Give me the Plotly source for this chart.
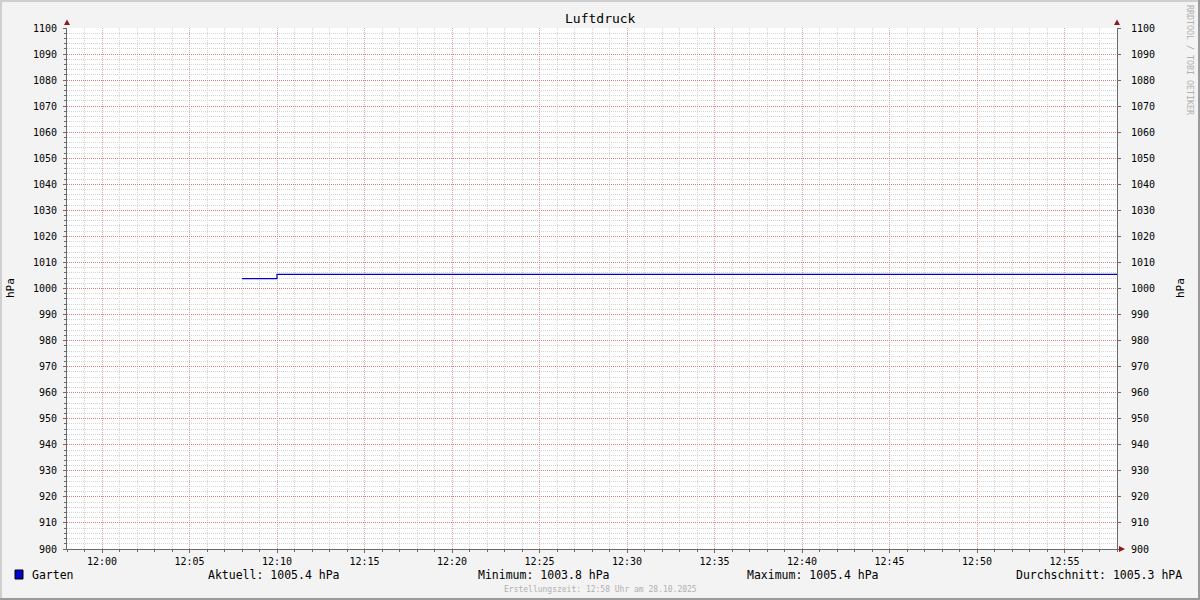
import plotly.graph_objects as go

# ---- data ----
title = "Luftdruck"
series_name = "Garten"
times = ["2025-10-28 12:08:00", "2025-10-28 12:10:00", "2025-10-28 12:58:00"]
values = [1003.8, 1005.4, 1005.4]
x_range = ["2025-10-28 11:58:00", "2025-10-28 12:58:00"]
y_range = [900, 1100]
unit = "hPa"
stats = ["Aktuell: 1005.4 hPa", "Minimum: 1003.8 hPa", "Maximum: 1005.4 hPa", "Durchschnitt: 1005.3 hPA"]
footer = "Erstellungszeit: 12:58 Uhr am 28.10.2025"
watermark = "RRDTOOL / TOBI OETIKER"

W, H = 1200, 600
L, R, T, B = 67, 1117, 28, 549
pw, ph = R - L, B - T

def px(x):
    return (x - L) / pw

def py(y):
    return (B - y) / ph

MONO = "DejaVu Sans Mono"
LINE = "#0000cc"
MAJ = "#e8a0a0"
MAJ_Y = "#dd7f7f"
MIN = "#d4d4d4"
AX = "#6a6a6a"
ARW = "#8b1a1a"
DASH = "1px,1px"

fig = go.Figure()
fig.add_trace(go.Scatter(x=times, y=values, mode="lines", name=series_name,
                         line=dict(color=LINE, width=1.2, shape="hv"),
                         showlegend=False, hoverinfo="x+y"))
# invisible trace for right axis
fig.add_trace(go.Scatter(x=[times[0]], y=[values[0]], yaxis="y2", mode="markers",
                         marker=dict(opacity=0), showlegend=False, hoverinfo="skip"))

axis_common = dict(
    showgrid=True, griddash=DASH, gridwidth=1,
    zeroline=False, showline=True, linecolor=AX, linewidth=1,
    ticks="outside", ticklen=3, tickcolor=AX,
    tickfont=dict(family=MONO, size=10, color="#000000"),
)

fig.update_layout(
    width=W, height=H,
    margin=dict(l=L, r=W - R, t=T, b=H - B),
    paper_bgcolor="#f3f3f3", plot_bgcolor="#ffffff",
    font=dict(family=MONO, color="#000000"),
    xaxis=dict(
        type="date", range=x_range, dtick=300000, tick0="2025-10-28 12:00:00",
        tickformat="%H:%M", gridcolor=MAJ, **axis_common,
        minor=dict(dtick=60000, showgrid=True, gridcolor=MIN, griddash=DASH,
                   ticks="outside", ticklen=2, tickcolor=AX),
    ),
    yaxis=dict(
        range=y_range, dtick=10, tick0=900, ticklabelstandoff=4, gridcolor=MAJ_Y, **axis_common,
        minor=dict(dtick=2, showgrid=True, gridcolor=MIN, griddash=DASH,
                   ticks="outside", ticklen=2, tickcolor=AX),
    ),
    yaxis2=dict(
        range=y_range, dtick=10, tick0=900, overlaying="y", side="right",
        showgrid=False, zeroline=False, showline=True, linecolor=AX, linewidth=1,
        ticks="outside", ticklen=3, tickcolor=AX, ticklabelstandoff=8,
        tickfont=dict(family=MONO, size=10, color="#000000"),
    ),
)

shapes = []
# arrows
shapes.append(dict(type="path", xref="paper", yref="paper",
                   path=f"M {px(64)} {py(25)} L {px(70)} {py(25)} L {px(67)} {py(19.5)} Z",
                   fillcolor=ARW, line=dict(width=0)))
shapes.append(dict(type="path", xref="paper", yref="paper",
                   path=f"M {px(1114)} {py(25)} L {px(1120)} {py(25)} L {px(1117)} {py(19.5)} Z",
                   fillcolor=ARW, line=dict(width=0)))
shapes.append(dict(type="path", xref="paper", yref="paper",
                   path=f"M {px(1119)} {py(546)} L {px(1119)} {py(552)} L {px(1125)} {py(549)} Z",
                   fillcolor=ARW, line=dict(width=0)))
# legend square
shapes.append(dict(type="rect", xref="paper", yref="paper",
                   x0=px(15), x1=px(23), y0=py(579), y1=py(570),
                   fillcolor=LINE, line=dict(color="#000000", width=1)))
# image border
shapes.append(dict(type="line", xref="paper", yref="paper", x0=px(0), x1=px(W), y0=py(1), y1=py(1),
                   line=dict(color="#cfcfcf", width=2)))
shapes.append(dict(type="line", xref="paper", yref="paper", x0=px(1), x1=px(1), y0=py(0), y1=py(H),
                   line=dict(color="#cfcfcf", width=2)))
shapes.append(dict(type="line", xref="paper", yref="paper", x0=px(0), x1=px(W), y0=py(H - 1), y1=py(H - 1),
                   line=dict(color="#9a9a9a", width=2)))
shapes.append(dict(type="line", xref="paper", yref="paper", x0=px(W - 1), x1=px(W - 1), y0=py(0), y1=py(H),
                   line=dict(color="#9a9a9a", width=2)))
fig.update_layout(shapes=shapes)

ann = []
def text(x, y, s, size, color="#000000", xanchor="center", angle=0):
    ann.append(dict(x=px(x), y=py(y), xref="paper", yref="paper", text=s, showarrow=False,
                    font=dict(family=MONO, size=size, color=color),
                    xanchor=xanchor, yanchor="middle", textangle=angle))

text(600, 19, title, 13)
text(10, 288, unit, 11, angle=-90)
text(1180, 288, unit, 11, angle=-90)
text(1190, 60, watermark, 8.3, color="#b0b0b0", angle=90)
text(30, 575, series_name, 11.5, xanchor="left")
text(274, 575, stats[0], 11.5)
text(544, 575, stats[1], 11.5)
text(813, 575, stats[2], 11.5)
text(1184, 575, stats[3], 11.5, xanchor="right")
text(600, 589, footer, 8, color="#b0b0b0")
fig.update_layout(annotations=ann)

fig.write_html("out.html", config={"displayModeBar": False},
               post_script="document.body.style.margin='0';document.body.style.overflow='hidden';")
